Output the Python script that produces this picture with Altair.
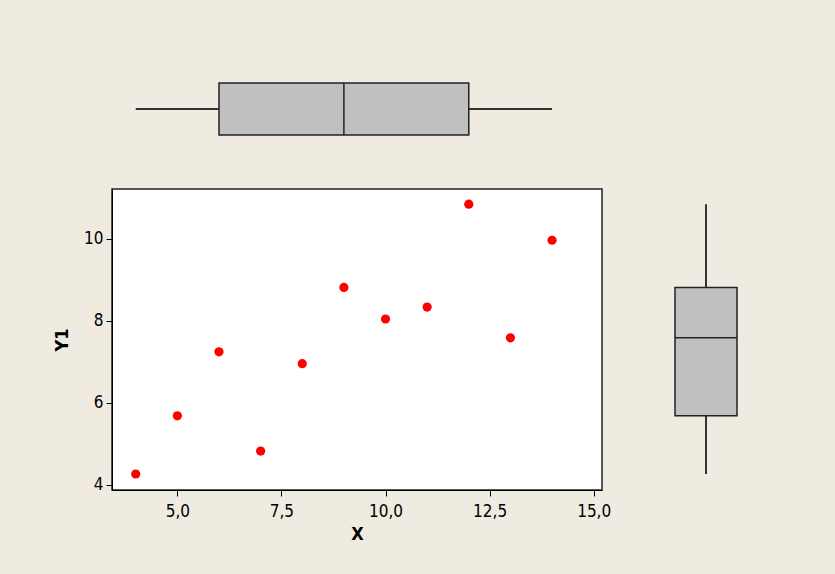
import altair as alt
import pandas as pd

# Anscombe data set I
x_vals = [10, 8, 13, 9, 11, 14, 6, 4, 12, 7, 5]
y1_vals = [8.04, 6.95, 7.58, 8.81, 8.33, 9.96, 7.24, 4.26, 10.84, 4.82, 5.68]
x_ticks = [5.0, 7.5, 10.0, 12.5, 15.0]
y_ticks = [4, 6, 8, 10]

FONT = "DejaVu Sans Condensed, DejaVu Sans"
BG = "#EFEBE0"
BOX_FILL = "#C0C0C0"
LINE = "#222222"


def quartile(sorted_vals, p):
    """Quartile by the (n+1)p position rule with linear interpolation."""
    n = len(sorted_vals)
    pos = (n + 1) * p
    lo = int(pos)
    frac = pos - lo
    if lo < 1:
        return sorted_vals[0]
    if lo >= n:
        return sorted_vals[-1]
    return sorted_vals[lo - 1] + frac * (sorted_vals[lo] - sorted_vals[lo - 1])


def summary(vals):
    s = sorted(vals)
    return {
        "lo": s[0],
        "q1": quartile(s, 0.25),
        "med": quartile(s, 0.5),
        "q3": quartile(s, 0.75),
        "hi": s[-1],
        "g": "all",
    }


pts = pd.DataFrame({"X": x_vals, "Y1": y1_vals})
x_box = pd.DataFrame([summary(x_vals)])
y_box = pd.DataFrame([summary(y1_vals)])

PLOT_W, PLOT_H = 490, 301
BOX_THICK_TOP, BOX_THICK_RIGHT = 52, 62


def x_scale():
    return alt.Scale(domain=[3.43, 15.2], nice=False, zero=False)


def y_scale():
    return alt.Scale(domain=[3.87, 11.21], nice=False, zero=False)


def band_scale():
    return alt.Scale(paddingInner=0, paddingOuter=0)


no_frame = alt.ViewBackground(stroke="transparent", fill="transparent")

# Scatter of Y1 against X
scatter = alt.Chart(pts).mark_circle(size=85, color="#FF0000", opacity=1).encode(
    x=alt.X(
        "X:Q",
        scale=x_scale(),
        axis=alt.Axis(
            values=x_ticks,
            labelExpr="replace(format(datum.value, '.1f'), '.', ',')",
            title="X",
        ),
    ),
    y=alt.Y("Y1:Q", scale=y_scale(), axis=alt.Axis(values=y_ticks, format="d", title="Y1")),
).properties(
    width=PLOT_W,
    height=PLOT_H,
    view=alt.ViewBackground(fill="white", stroke=LINE, strokeWidth=1.5),
)

# Horizontal boxplot of X above the scatter
top_base = alt.Chart(x_box)
top = alt.layer(
    top_base.mark_rule(color="#333333", strokeWidth=2).encode(
        x=alt.X("lo:Q", scale=x_scale(), axis=None),
        x2="hi:Q",
        y=alt.Y("g:N", axis=None, scale=band_scale()),
    ),
    top_base.mark_rect(fill=BOX_FILL, stroke=LINE, strokeWidth=1.5).encode(
        x=alt.X("q1:Q", scale=x_scale(), axis=None),
        x2="q3:Q",
        y=alt.Y("g:N", axis=None, scale=band_scale()),
    ),
    top_base.mark_rule(color=LINE, strokeWidth=1.5).encode(
        x=alt.X("med:Q", scale=x_scale(), axis=None),
    ),
).properties(width=PLOT_W, height=BOX_THICK_TOP, view=no_frame)

# Vertical boxplot of Y1 to the right of the scatter
right_base = alt.Chart(y_box)
right = alt.layer(
    right_base.mark_rule(color="#333333", strokeWidth=2).encode(
        y=alt.Y("lo:Q", scale=y_scale(), axis=None),
        y2="hi:Q",
        x=alt.X("g:N", axis=None, scale=band_scale()),
    ),
    right_base.mark_rect(fill=BOX_FILL, stroke=LINE, strokeWidth=1.5).encode(
        y=alt.Y("q1:Q", scale=y_scale(), axis=None),
        y2="q3:Q",
        x=alt.X("g:N", axis=None, scale=band_scale()),
    ),
    right_base.mark_rule(color=LINE, strokeWidth=1.5).encode(
        y=alt.Y("med:Q", scale=y_scale(), axis=None),
    ),
).properties(width=BOX_THICK_RIGHT, height=PLOT_H, view=no_frame)

chart = (
    alt.vconcat(
        top,
        alt.hconcat(scatter, right, spacing=73, bounds="flush"),
        spacing=54,
        bounds="flush",
    )
    .properties(
        background=BG,
        padding={"left": 52, "top": 81, "right": 96, "bottom": 30},
    )
    .configure_axis(
        grid=False,
        domainColor="black",
        domainWidth=1,
        tickColor="black",
        tickSize=6,
        tickWidth=1,
        labelFont=FONT,
        labelFontSize=17,
        labelColor="black",
        labelPadding=3,
        titleFont=FONT,
        titleFontSize=18,
        titleFontWeight="bold",
        titleColor="black",
    )
    .configure_axisX(labelPadding=7, titlePadding=6)
    .configure_axisY(titlePadding=12)
)

chart.save("out.html", embed_options={"renderer": "svg", "actions": False})
